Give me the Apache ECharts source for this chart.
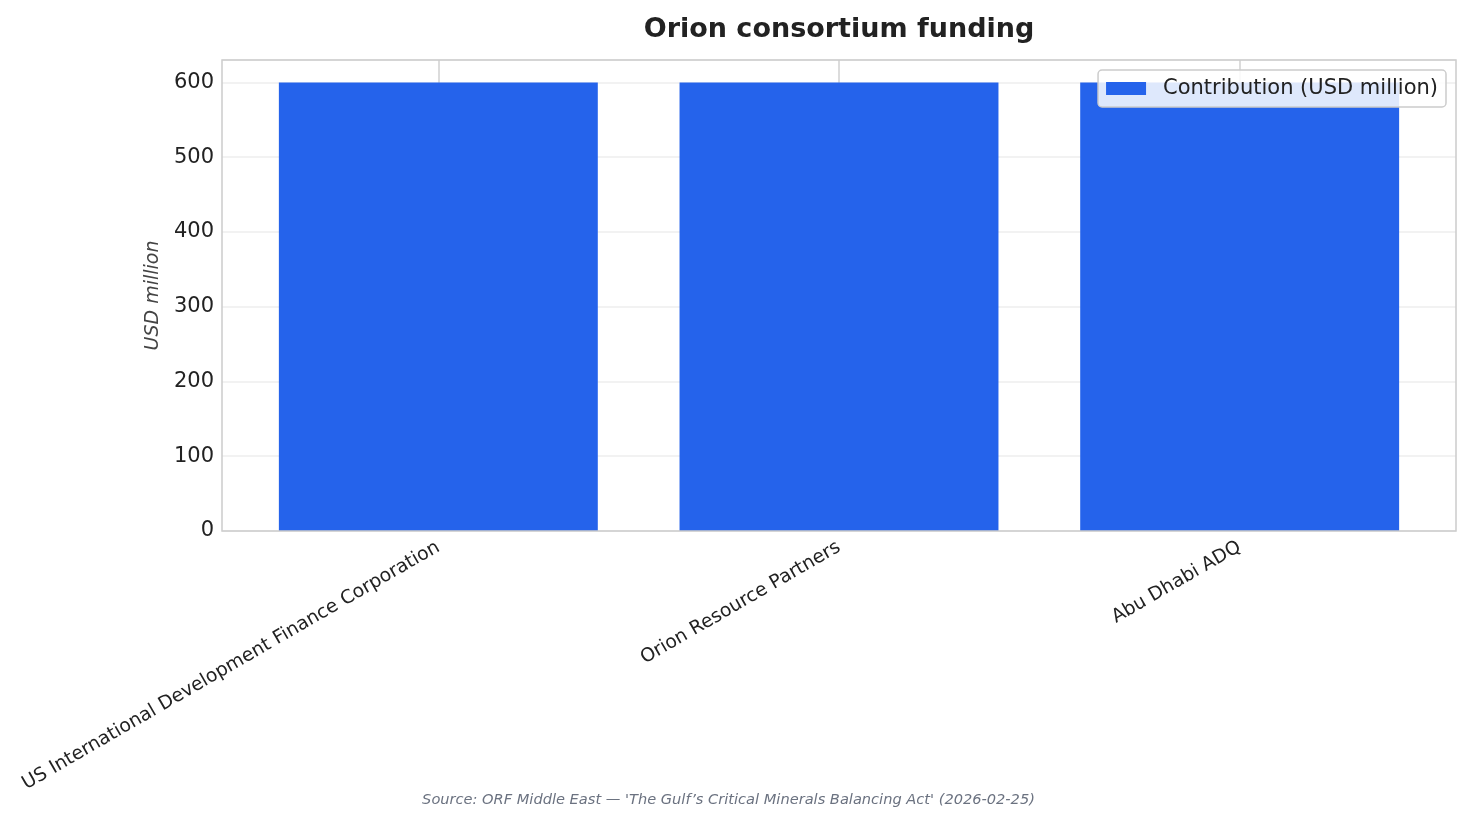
<!DOCTYPE html>
<html>
<head>
<meta charset="utf-8">
<script src="https://cdn.jsdelivr.net/npm/echarts@6/dist/echarts.min.js"></script>
<style>
  html, body { margin: 0; padding: 0; background: #fff; }
  #chart { width: 1471px; height: 823px; }
</style>
</head>
<body>
<div id="chart"></div>
<script>
// 数据
const categories = [
  'US International Development Finance Corporation',
  'Orion Resource Partners',
  'Abu Dhabi ADQ'
];
const contribution = [600, 600, 600];
const seriesName = 'Contribution (USD million)';
const sourceText = "Source: ORF Middle East \u2014 'The Gulf\u2019s Critical Minerals Balancing Act' (2026-02-25)";

const font = 'DejaVu Sans';
const myChart = echarts.init(document.getElementById('chart'));

const option = {
  backgroundColor: '#fff',
  animation: false,
  textStyle: {fontFamily: font},
  title: {
    text: 'Orion consortium funding',
    left: 834,
    top: 11,
    textAlign: 'center',
    textStyle: {fontSize: 27, fontWeight: 'bold', color: '#222', fontFamily: font}
  },
  legend: {
    right: 25,
    top: 70,
    padding: [8, 8, 8, 8],
    itemWidth: 40,
    itemHeight: 13,
    backgroundColor: 'rgba(255,255,255,0.85)',
    borderColor: '#cccccc',
    borderWidth: 1.5,
    borderRadius: 4,
    textStyle: {fontSize: 21, color: '#222', fontFamily: font, padding: [0, 0, 0, 12]},
    data: [{name: seriesName, icon: 'rect'}]
  },
  // grid 0: bars, grid 1: full plot area for the horizontal grid lines
  grid: [
    {left: 238, right: 31, top: 60, bottom: 292},
    {left: 222, right: 15, top: 60, bottom: 292}
  ],
  xAxis: [
    {
      type: 'category',
      gridIndex: 0,
      data: categories,
      axisLine: {show: false},
      axisTick: {show: false},
      axisLabel: {rotate: 30, fontSize: 18.8, color: '#222', margin: 15, interval: 0, fontFamily: font},
      splitLine: {show: true, alignWithLabel: true, lineStyle: {color: '#d0d0d0', width: 1.5}}
    },
    {
      type: 'value',
      gridIndex: 1,
      min: 0,
      max: 1,
      show: false
    }
  ],
  yAxis: [
    {
      type: 'value',
      gridIndex: 0,
      min: 0,
      max: 630,
      interval: 100,
      axisLine: {show: false},
      axisTick: {show: false},
      axisLabel: {show: false},
      splitLine: {show: false}
    },
    {
      type: 'value',
      gridIndex: 1,
      min: 0,
      max: 630,
      interval: 100,
      name: 'USD million',
      nameLocation: 'middle',
      nameGap: 54,
      nameTextStyle: {fontSize: 19, fontStyle: 'italic', color: '#444', fontFamily: font},
      axisLine: {show: false},
      axisTick: {show: false},
      axisLabel: {fontSize: 21, color: '#222', margin: 8, showMaxLabel: false, fontFamily: font},
      splitLine: {lineStyle: {color: '#eeeeee', width: 1.5}}
    }
  ],
  graphic: [
    {
      type: 'rect',
      shape: {x: 222, y: 60, width: 1234, height: 471},
      style: {fill: 'none', stroke: '#cccccc', lineWidth: 1.5},
      z: 100,
      silent: true
    },
    {
      type: 'text',
      x: 728.5,
      y: 800,
      style: {
        text: sourceText,
        fill: '#6b7280',
        font: 'italic 14.6px "DejaVu Sans"',
        align: 'center',
        verticalAlign: 'middle'
      }
    }
  ],
  series: [{
    name: seriesName,
    type: 'bar',
    xAxisIndex: 0,
    yAxisIndex: 0,
    data: contribution,
    barWidth: '79.6%',
    itemStyle: {color: '#2563EB'}
  }]
};

myChart.setOption(option);
</script>
</body>
</html>
